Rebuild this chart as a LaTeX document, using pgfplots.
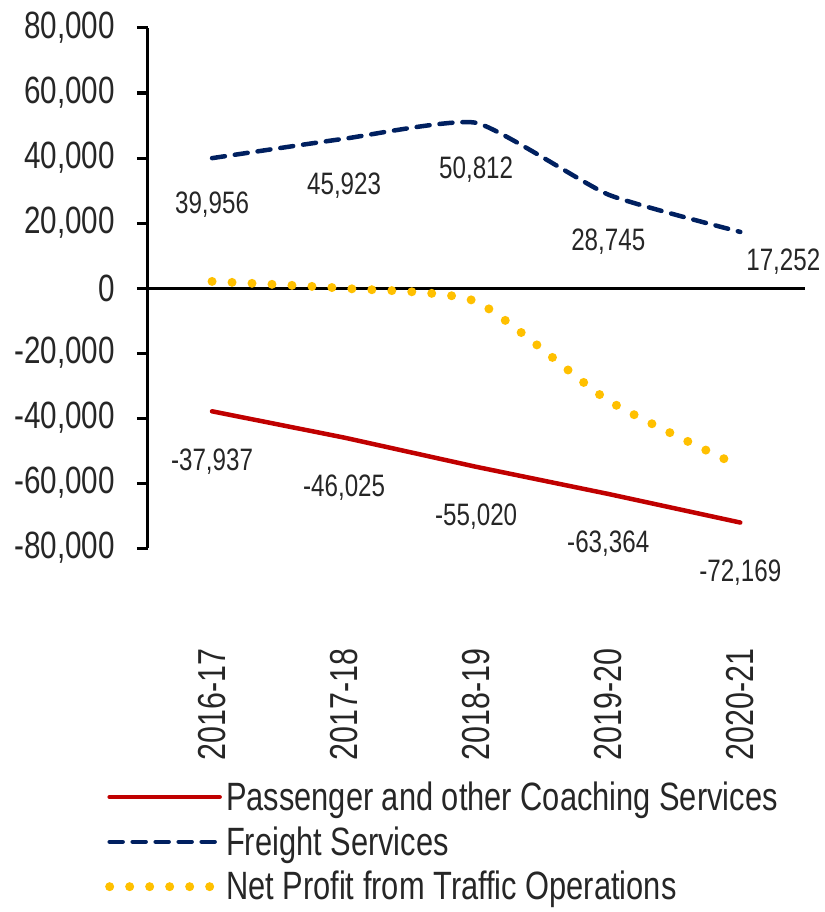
\documentclass[border=0pt]{standalone}
\usepackage{fontspec}
\setmainfont{Liberation Sans}[FakeStretch=0.78]
\usepackage{pgfplots}
\usepackage{pgfplotstable}
\pgfplotsset{compat=1.18}

\definecolor{passred}{HTML}{C00000}
\definecolor{freightblue}{HTML}{002060}
\definecolor{netyellow}{HTML}{FFC000}

% Earnings by segment (Rs crore)
\pgfplotstableread{
x y label
0 -37937 -37,937
1 -46025 -46,025
2 -55020 -55,020
3 -63364 -63,364
4 -72169 -72,169
}\passenger
\pgfplotstableread{
x y label
0 39956 39,956
1 45923 45,923
2 50812 50,812
3 28745 28,745
4 17252 17,252
}\freight
\pgfplotstableread{
x y
0 2019
1 -102
2 -4208
3 -34619
4 -54917
}\netprofit

\begin{document}
\begin{tikzpicture}
\begin{axis}[
  scale only axis,
  width=657pt, height=520pt,
  xmin=-0.485, xmax=4.49,
  ymin=-80000, ymax=80000,
  clip=false,
  axis x line*=bottom,
  axis y line*=left,
  x axis line style={draw=none},
  y axis line style={line width=3pt, black},
  xtick={0,1,2,3,4},
  xticklabels={2016-17,2017-18,2018-19,2019-20,2020-21},
  xtick style={draw=none},
  xticklabel shift=86pt,
  xticklabel style={rotate=90, anchor=east, font=\fontsize{39}{42}\selectfont, text=black!85},
  ytick={-80000,-60000,-40000,-20000,0,20000,40000,60000,80000},
  scaled y ticks=false,
  ytick style={line width=3pt, black},
  tick align=outside,
  major tick length=11pt,
  yticklabel style={font=\fontsize{38}{40}\selectfont, text=black!85, inner sep=0pt},
  yticklabel shift=22pt,
  /pgf/number format/.cd, fixed, precision=0, 1000 sep={,}, assume math mode=true,
  /pgfplots/.cd,
  extra y ticks={0},
  extra y tick labels={},
  extra y tick style={grid=major, major grid style={line width=3pt, black}, tick style={draw=none}},
  legend style={
    at={(axis description cs:-0.0655,-0.445)}, anchor=north west,
    draw=none, fill=none, inner sep=0pt,
    font=\fontsize{39.5}{42}\selectfont, text=black!85,
    row sep=10pt,
    nodes={inner sep=2pt, text depth=0.22em},
    /tikz/every even column/.append style={column sep=4pt},
  },
  legend cell align=left,
  legend image code/.code={\draw[#1] (0pt,0pt) -- (110pt,0pt);},
]
\addplot[color=passred, line width=4.5pt, line cap=round,
  nodes near coords={\pgfplotspointmeta},
  nodes near coords style={font=\fontsize{31}{34}\selectfont, text=black!85, anchor=center, yshift=-50pt},
  point meta=explicit symbolic]
  table[x=x, y=y, meta=label] {\passenger};
\addlegendentry{Passenger and other Coaching Services}

\addplot[color=freightblue, line width=4.5pt, line cap=round, smooth, tension=0.3,
  dash pattern=on 13pt off 10pt,
  nodes near coords={\pgfplotspointmeta},
  nodes near coords style={font=\fontsize{31}{34}\selectfont, text=black!85, anchor=center, yshift=-47pt},
  coordinate style/.condition={x==4}{xshift=43pt, yshift=17pt},
  point meta=explicit symbolic]
  table[x=x, y=y, meta=label] {\freight};
\addlegendentry{Freight Services}

\addplot[color=netyellow, line width=9pt, line cap=round, smooth, tension=0.35,
  dash pattern=on 0pt off 20pt]
  table[x=x, y=y] {\netprofit};
\addlegendentry{Net Profit from Traffic Operations}
\end{axis}
\pgfresetboundingbox
\path (-148pt,-364pt) rectangle (676pt,548pt);
\end{tikzpicture}
\end{document}
